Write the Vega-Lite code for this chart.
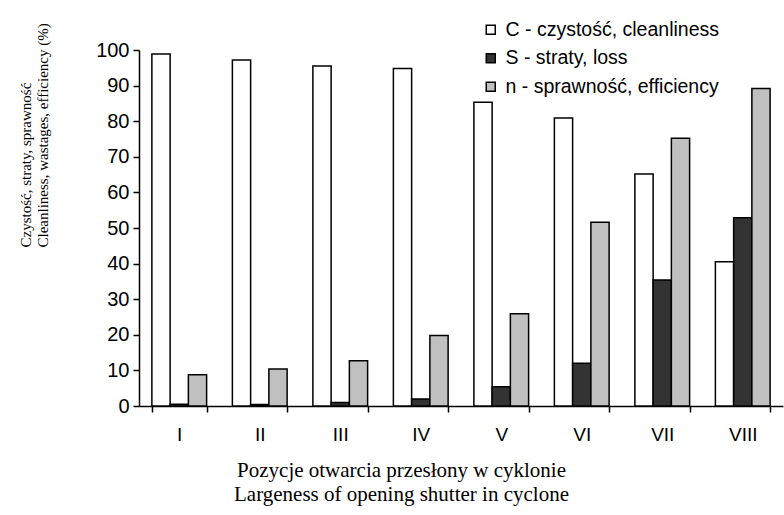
{
  "$schema": "https://vega.github.io/schema/vega-lite/v6.json",
  "autosize": {"type": "none"},
  "padding": {"left": 139, "top": 50, "right": 1, "bottom": 109},
  "width": 644,
  "height": 356,
  "background": "white",
  "data": {
    "values": [
      {"pos": "I", "series": "C - czystość, cleanliness", "value": 98.9},
      {"pos": "I", "series": "S - straty, loss", "value": 0.5},
      {"pos": "I", "series": "n - sprawność, efficiency", "value": 8.8},
      {"pos": "II", "series": "C - czystość, cleanliness", "value": 97.2},
      {"pos": "II", "series": "S - straty, loss", "value": 0.4},
      {"pos": "II", "series": "n - sprawność, efficiency", "value": 10.4},
      {"pos": "III", "series": "C - czystość, cleanliness", "value": 95.5},
      {"pos": "III", "series": "S - straty, loss", "value": 1.0},
      {"pos": "III", "series": "n - sprawność, efficiency", "value": 12.7},
      {"pos": "IV", "series": "C - czystość, cleanliness", "value": 94.8},
      {"pos": "IV", "series": "S - straty, loss", "value": 2.0},
      {"pos": "IV", "series": "n - sprawność, efficiency", "value": 19.8},
      {"pos": "V", "series": "C - czystość, cleanliness", "value": 85.3},
      {"pos": "V", "series": "S - straty, loss", "value": 5.4},
      {"pos": "V", "series": "n - sprawność, efficiency", "value": 25.9},
      {"pos": "VI", "series": "C - czystość, cleanliness", "value": 80.9},
      {"pos": "VI", "series": "S - straty, loss", "value": 12.0},
      {"pos": "VI", "series": "n - sprawność, efficiency", "value": 51.6},
      {"pos": "VII", "series": "C - czystość, cleanliness", "value": 65.2},
      {"pos": "VII", "series": "S - straty, loss", "value": 35.4},
      {"pos": "VII", "series": "n - sprawność, efficiency", "value": 75.2},
      {"pos": "VIII", "series": "C - czystość, cleanliness", "value": 40.5},
      {"pos": "VIII", "series": "S - straty, loss", "value": 52.9},
      {"pos": "VIII", "series": "n - sprawność, efficiency", "value": 89.2}
    ]
  },
  "mark": {"type": "bar", "stroke": "black", "strokeWidth": 1.5},
  "encoding": {
    "x": {
      "field": "pos",
      "type": "nominal",
      "sort": ["I", "II", "III", "IV", "V", "VI", "VII", "VIII"],
      "scale": {"paddingInner": 0.32, "paddingOuter": 0.16},
      "axis": {
        "title": ["Pozycje otwarcia przesłony w cyklonie", "Largeness of opening shutter in cyclone"],
        "titleFont": "Liberation Serif",
        "titleFontSize": 21,
        "titleFontWeight": "normal",
        "titleColor": "black",
        "titleLineHeight": 24,
        "titleAnchor": "start",
        "titleAlign": "center",
        "titleBaseline": "top",
        "titleX": 262,
        "titleY": 53,
        "labelFont": "Liberation Sans",
        "labelFontSize": 19,
        "labelColor": "black",
        "labelAngle": 0,
        "labelPadding": 13,
        "tickBand": "extent",
        "tickSize": 6,
        "tickColor": "black",
        "tickWidth": 1.5,
        "domainColor": "black",
        "domainWidth": 1.5
      }
    },
    "xOffset": {
      "field": "series",
      "type": "nominal",
      "sort": ["C - czystość, cleanliness", "S - straty, loss", "n - sprawność, efficiency"],
      "scale": {"paddingInner": 0, "paddingOuter": 0}
    },
    "y": {
      "field": "value",
      "type": "quantitative",
      "scale": {"domain": [0, 100], "nice": false},
      "axis": {
        "values": [0, 10, 20, 30, 40, 50, 60, 70, 80, 90, 100],
        "grid": false,
        "title": ["Czystość, straty, sprawność", "Cleanliness, wastages, efficiency (%)"],
        "titleFont": "Liberation Serif",
        "titleFontSize": 15,
        "titleFontWeight": "normal",
        "titleColor": "black",
        "titleLineHeight": 17,
        "titleAngle": -90,
        "titleAnchor": "start",
        "titleAlign": "left",
        "titleBaseline": "top",
        "titleX": -121,
        "titleY": 197,
        "labelFont": "Liberation Sans",
        "labelFontSize": 20,
        "labelColor": "black",
        "labelPadding": 4,
        "tickSize": 6,
        "tickColor": "black",
        "tickWidth": 1.5,
        "domainColor": "black",
        "domainWidth": 1.5
      }
    },
    "fill": {
      "field": "series",
      "type": "nominal",
      "sort": ["C - czystość, cleanliness", "S - straty, loss", "n - sprawność, efficiency"],
      "scale": {"range": ["#ffffff", "#333333", "#c0c0c0"]},
      "legend": {
        "title": null,
        "orient": "none",
        "legendX": 342,
        "legendY": -30,
        "symbolType": "square",
        "symbolSize": 81,
        "symbolStrokeColor": "black",
        "symbolStrokeWidth": 1.5,
        "labelFont": "Liberation Sans",
        "labelFontSize": 19.5,
        "labelColor": "black",
        "labelOffset": 5,
        "rowPadding": 7.5,
        "labelLimit": 400,
        "padding": 0
      }
    }
  },
  "config": {
    "view": {"stroke": null}
  }
}
